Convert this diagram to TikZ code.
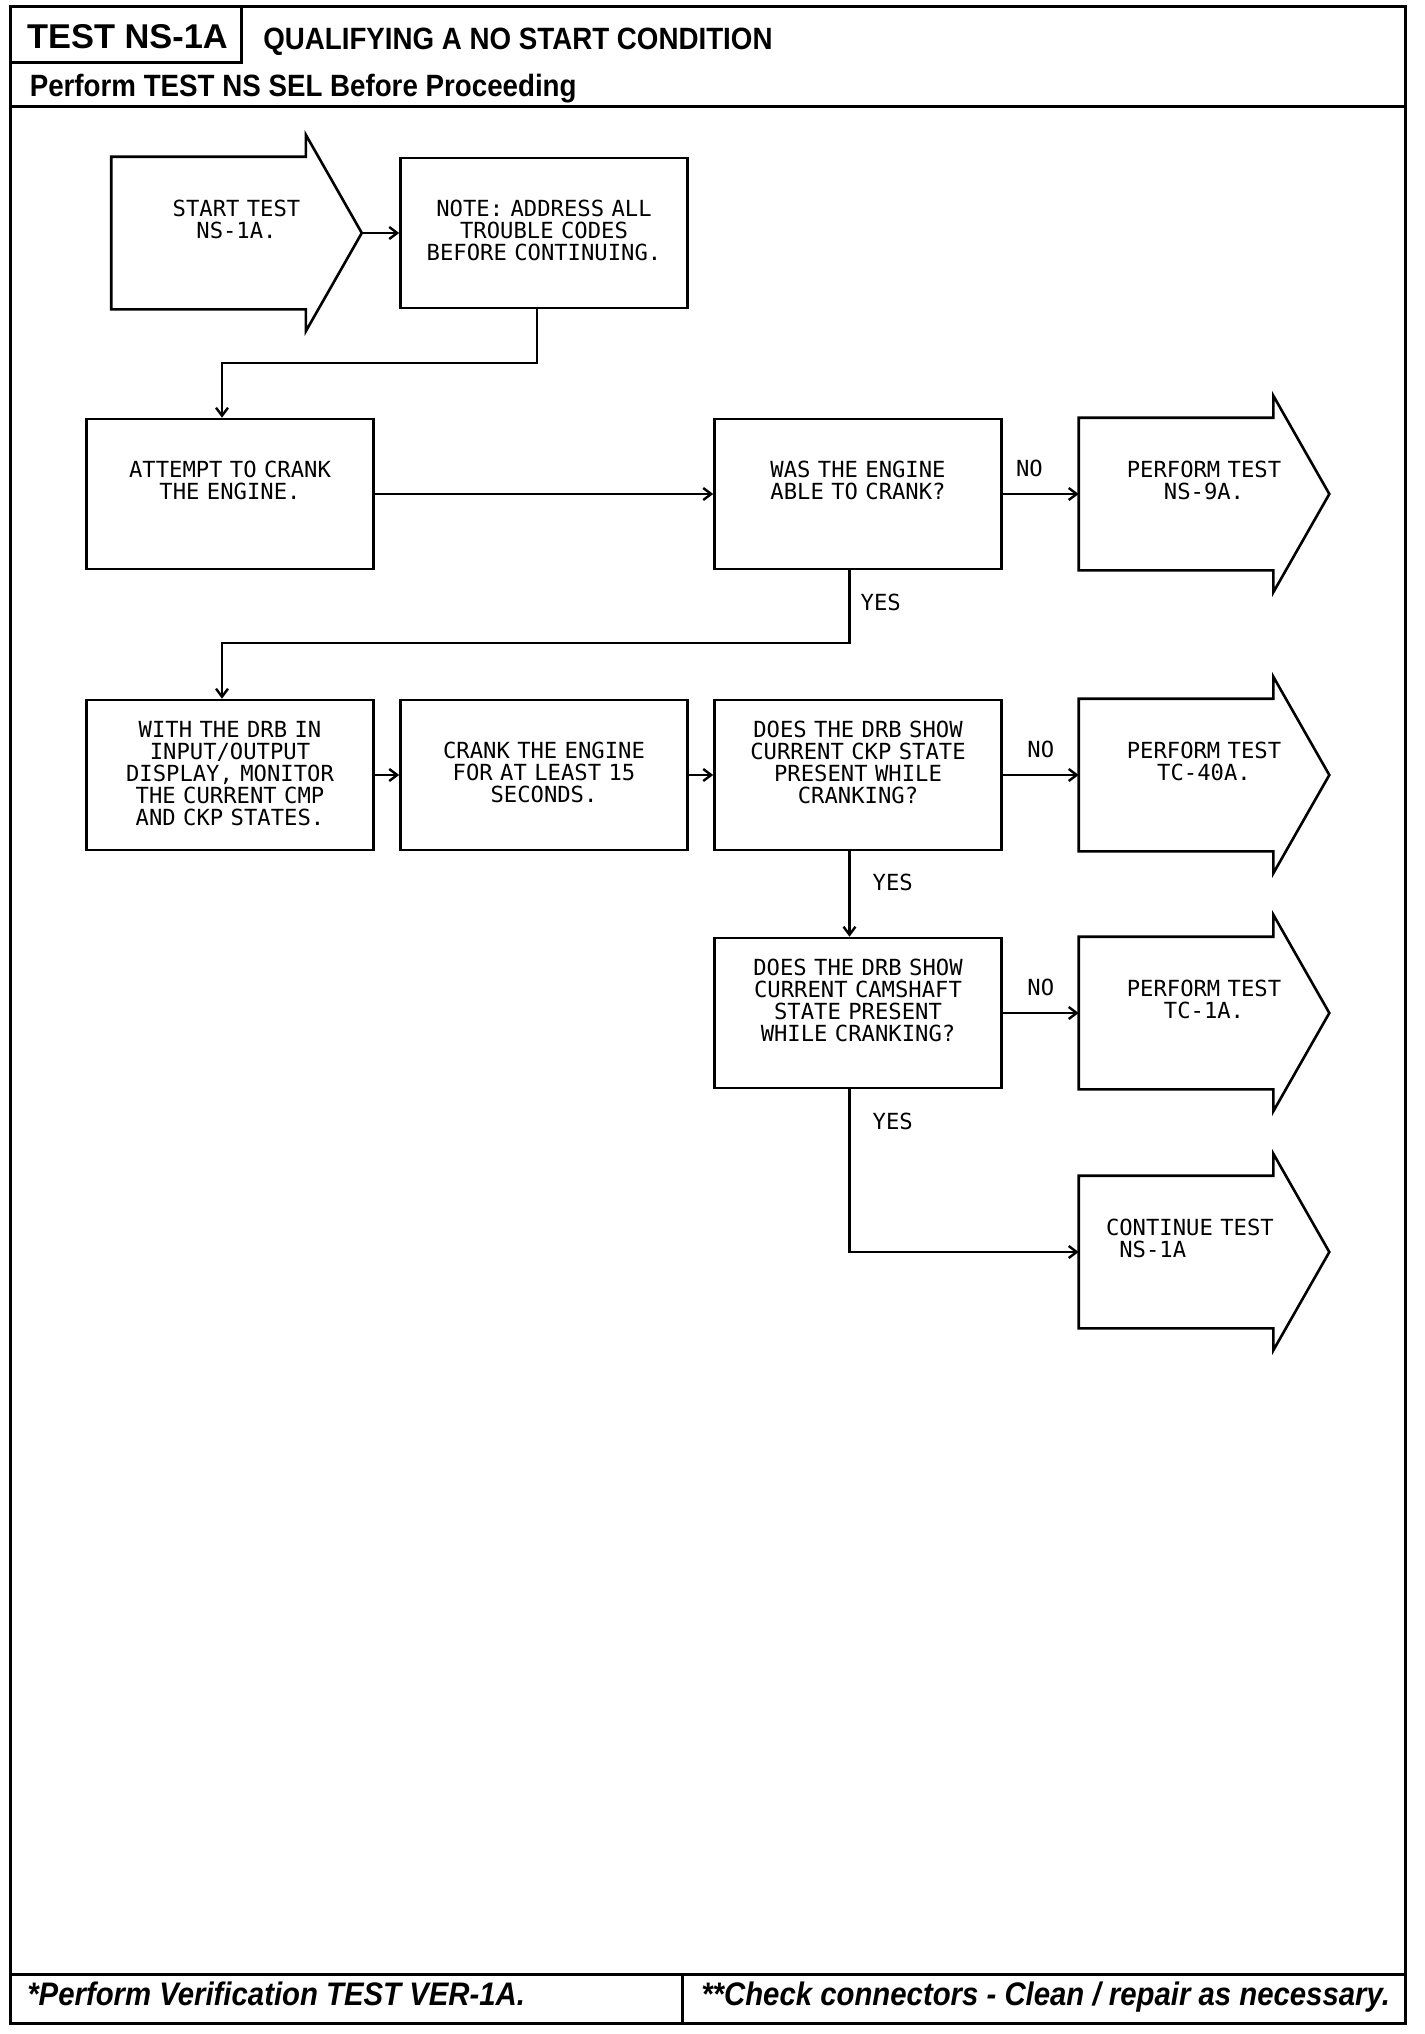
\documentclass[tikz,border=0pt]{standalone}
\usepackage{fontspec}
\setmainfont{Liberation Sans}
\newfontfamily\narrowfont[FakeStretch=0.9]{Liberation Sans}
\newfontfamily\plotfont{DejaVu Sans Mono}
\usetikzlibrary{positioning,arrows.meta}

\begin{document}
\begin{tikzpicture}[
  x=0.5pt, y=0.5pt,
  >={Straight Barb[length=4pt,width=6pt]},
  line width=1.3pt,
  every node/.style={font=\plotfont\fontsize{11.1}{11}\selectfont},
  box/.style={draw, inner sep=0pt, align=center, text width=143.5pt,
    text height=29.3pt, text depth=45.7pt},
  tall/.style={text height=18.9pt, text depth=56.1pt},
  arrowbox/.style={box, draw=none, text width=124pt},
  flow/.style={->, line width=1.2pt},
  lbl/.style={inner sep=0pt, text width=, text height=, text depth=},
  frame/.style={line width=1.5pt},
  head/.style={inner sep=0pt, font=\normalfont\narrowfont\bfseries\fontsize{15.4}{15.4}\selectfont},
  foot/.style={inner sep=0pt, anchor=base west, font=\normalfont\narrowfont\bfseries\itshape\fontsize{16.3}{16.3}\selectfont}]
  \useasboundingbox (0,0) rectangle (1424,-2034);

  % page frame
  \draw[frame] (10,-6) rectangle (1405,-2023);
  \draw[frame] (241,-6) -- (241,-62) -- (10,-62);
  \draw[frame] (10,-106) -- (1405,-106);
  \draw[frame] (10,-1974) -- (1405,-1974);
  \draw[frame] (682,-1974) -- (682,-2023);

  \node[inner sep=0pt, anchor=base, font=\normalfont\bfseries\fontsize{17.2}{17.2}\selectfont] (testid) at (127.5,-48) {TEST NS-1A};
  \node[head, anchor=base west] (title) at (262,-49) {QUALIFYING A NO START CONDITION};
  \node[head, anchor=base west] (pre) at (28.5,-96) {Perform TEST NS SEL Before Proceeding};
  \node[foot] (verify) at (26,-2005) {*Perform Verification TEST VER-1A.};
  \node[foot] (check) at (700,-2005) {**Check connectors - Clean / repair as necessary.};

  % steps
  \node[arrowbox] (start) at (236.5,-233) {START TEST\\NS-1A.};
  \node[box] (note) at (544,-233) {NOTE: ADDRESS ALL\\TROUBLE CODES\\BEFORE CONTINUING.};
  \node[box] (attempt) at (230,-494) {ATTEMPT TO CRANK\\THE ENGINE.};
  \node[box] (was) at (858,-494) {WAS THE ENGINE\\ABLE TO CRANK?};
  \node[arrowbox] (ns9a) at (1204,-494) {PERFORM TEST\\NS-9A.};
  \node[box, tall] (with) at (230,-775) {WITH THE DRB IN\\INPUT/OUTPUT\\DISPLAY, MONITOR\\THE CURRENT CMP\\AND CKP STATES.};
  \node[box] (crank) at (544,-775) {CRANK THE ENGINE\\FOR AT LEAST 15\\SECONDS.};
  \node[box, tall] (ckp) at (858,-775) {DOES THE DRB SHOW\\CURRENT CKP STATE\\PRESENT WHILE\\CRANKING?};
  \node[arrowbox] (tc40a) at (1204,-775) {PERFORM TEST\\TC-40A.};
  \node[box, tall] (cam) at (858,-1013) {DOES THE DRB SHOW\\CURRENT CAMSHAFT\\STATE PRESENT\\WHILE CRANKING?};
  \node[arrowbox] (tc1a) at (1204,-1013) {PERFORM TEST\\TC-1A.};
  \node[arrowbox, align=left] (cont) at (1204,-1252) {\hspace*{13pt}CONTINUE TEST\\\hspace*{13pt}\hphantom{C}NS-1A};

  % arrow outlines
  \foreach \n in {start,ns9a,tc40a,tc1a,cont}
    \draw (\n.north west) -- ([xshift=-28pt]\n.north east) -- ++(0,22) -- (\n.east)
      -- ([xshift=-28pt,yshift=-11pt]\n.south east) -- ([xshift=-28pt]\n.south east)
      -- (\n.south west) -- cycle;

  % connectors
  \coordinate (j1) at (222,-363);
  \coordinate (j2) at (222,-643);
  \draw[flow] (start.east) -- (note.west);
  \draw[flow] ([xshift=-3.5pt]note.south) |- (j1) -- (j1 |- attempt.north);
  \draw[flow] (attempt.east) -- (was.west);
  \draw[flow] (was.east) -- node[lbl, pos=0.35, above=8pt] {NO} (ns9a.west);
  \draw[flow] ([xshift=-4.25pt]was.south) |- node[lbl, pos=0.22, right=5pt] {YES} (j2) -- (j2 |- with.north);
  \draw[flow] (with.east) -- (crank.west);
  \draw[flow] (crank.east) -- (ckp.west);
  \draw[flow] (ckp.east) -- node[lbl, midway, above=8pt] {NO} (tc40a.west);
  \draw[flow] ([xshift=-4.25pt]ckp.south) -- node[lbl, pos=0.36, right=11pt] {YES} ([xshift=-4.25pt]cam.north);
  \draw[flow] (cam.east) -- node[lbl, midway, above=8pt] {NO} (tc1a.west);
  \draw[flow] ([xshift=-4.25pt]cam.south) |- node[lbl, pos=0.1, right=11pt] {YES} (cont.west);
\end{tikzpicture}
\end{document}
